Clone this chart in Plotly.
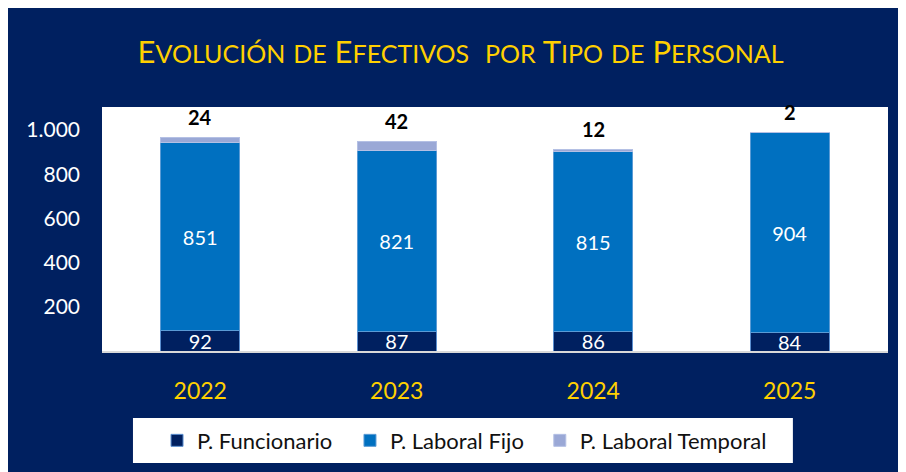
import plotly.graph_objects as go

# datos
anios = ['2022', '2023', '2024', '2025']
funcionario = [92, 87, 86, 84]
laboral_fijo = [851, 821, 815, 904]
laboral_temporal = [24, 42, 12, 2]
y_ticks = [200, 400, 600, 800, 1000]

NAVY = '#002060'
AZUL = '#0070C0'
LILA = '#9AA8D6'
AMARILLO = '#FFD000'
FONT = 'Lato, Carlito, sans-serif'

totales = [a + b + c for a, b, c in zip(funcionario, laboral_fijo, laboral_temporal)]

fig = go.Figure()

fig.add_trace(go.Bar(
    x=anios, y=funcionario, name='P. Funcionario', legend='legend',
    marker=dict(color=NAVY, line=dict(color='#5b8fd0', width=1)),
    text=funcionario, textposition='inside', insidetextanchor='middle',
    constraintext='none', textangle=0,
    textfont=dict(color='white', size=20, family=FONT),
))
fig.add_trace(go.Bar(
    x=anios, y=laboral_fijo, name='P. Laboral Fijo', legend='legend2',
    marker=dict(color=AZUL, line=dict(color='#5b9bd5', width=1)),
    text=laboral_fijo, textposition='inside', insidetextanchor='middle',
    constraintext='none', textangle=0,
    textfont=dict(color='white', size=20, family=FONT),
))
fig.add_trace(go.Bar(
    x=anios, y=laboral_temporal, name='P. Laboral Temporal', legend='legend3',
    marker=dict(color=LILA, line=dict(color='#b4c0e4', width=1)),
))

# etiquetas del temporal encima de cada barra (x por indice de categoria)
for i, (total, temp) in enumerate(zip(totales, laboral_temporal)):
    fig.add_annotation(x=i, y=total, xref='x', yref='y', text=f'<b>{temp}</b>',
                       showarrow=False, yanchor='bottom', yshift=6,
                       font=dict(color='black', size=20, family=FONT))


def versalitas(texto, peque=25):
    # imita las versalitas del titulo original
    partes = []
    for palabra in texto.split(' '):
        if palabra == '':
            partes.append('&nbsp;')
            continue
        if palabra[0].isupper():
            trozo = palabra[0]
            resto = palabra[1:]
        else:
            trozo = ''
            resto = palabra
        if resto:
            trozo += f'<span style="font-size:{peque}px">{resto.upper()}</span>'
        partes.append(trozo)
    return ' '.join(partes).replace(' &nbsp; ', '&nbsp; ')


titulo = versalitas('Evolución de Efectivos  por Tipo de Personal')

# caja blanca de la leyenda
fig.add_shape(type='rect', xref='paper', yref='paper', x0=0.0394, x1=0.879,
              y0=-0.459, y1=-0.2746, fillcolor='white', line_width=0, layer='below')

leyenda = dict(orientation='h', xanchor='left', y=-0.367, yanchor='middle',
               bgcolor='rgba(0,0,0,0)',
               font=dict(size=22, color='#111111', family=FONT))

fig.update_layout(
    barmode='stack',
    bargap=0.6,
    width=898,
    height=464,
    margin=dict(l=94, r=18, t=99, b=121, autoexpand=False),
    paper_bgcolor=NAVY,
    plot_bgcolor='white',
    separators=',.',
    showlegend=True,
    font=dict(family=FONT, color='white'),
    title=dict(text=titulo, x=0.504, xanchor='center', y=0.905, yanchor='middle',
               yref='container', font=dict(size=31, color=AMARILLO, family=FONT)),
    xaxis=dict(type='category', showgrid=False, showline=True, linecolor='#d9d9d9',
               linewidth=2, tickfont=dict(size=23, color=AMARILLO, family=FONT),
               ticklabelstandoff=18),
    yaxis=dict(showgrid=False, zeroline=False, range=[0, 1104],
               tickvals=y_ticks, tickformat=',d',
               tickfont=dict(size=21, color='white', family=FONT),
               ticklabelstandoff=21),
    legend=dict(leyenda, x=0.070),
    legend2=dict(leyenda, x=0.3155),
    legend3=dict(leyenda, x=0.557),
)

fig.write_html("out.html")
